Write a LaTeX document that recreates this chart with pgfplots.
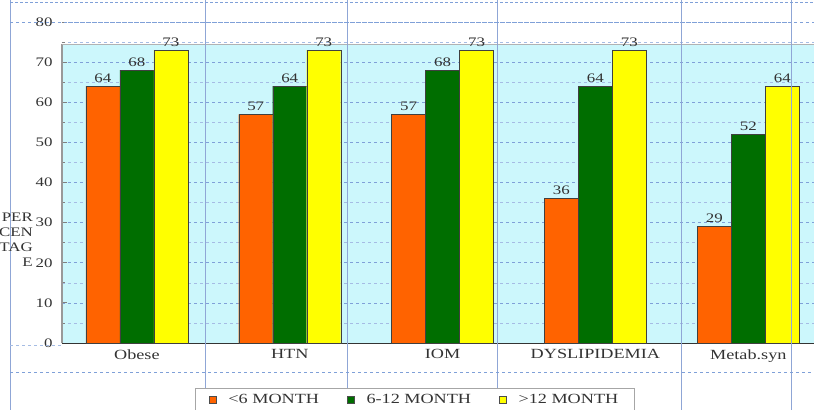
\documentclass[border=0pt]{standalone}
\usepackage{fontspec}
\setmainfont{Liberation Serif}[FakeStretch=1.3]
\usepackage{pgfplots}
\pgfplotsset{compat=1.18}
\definecolor{bgblue}{HTML}{CCF7FC}
\definecolor{gorange}{HTML}{FF6300}
\definecolor{ggreen}{HTML}{006E00}
\definecolor{gyellow}{HTML}{FFFF00}
\definecolor{gridblue}{HTML}{7FA0D8}
\definecolor{vline}{HTML}{8FA6D6}
\definecolor{txt}{HTML}{333333}
\pgfplotsset{sqleg/.style={legend image code/.code={\draw[##1,draw=black!70] (0pt,-3.5pt) rectangle (7pt,3.5pt);}}}
\begin{document}
\begin{tikzpicture}
\begin{axis}[name=ax, set layers, clip=false,
  width=752pt, height=321pt, scale only axis,
  ymin=0, ymax=80, xmin=-0.49, xmax=4.43,
  ybar=0pt, bar width=34pt,
  xtick={0,...,4},
  xticklabels={Obese,HTN,IOM,DYSLIPIDEMIA,Metab.syn},
  x tick label style={font=\fontsize{14}{16}\selectfont, text=txt, yshift=2pt},
  xtick style={draw=none},
  ytick={0,10,...,80},
  y tick label style={font=\fontsize{13}{15}\selectfont, text=txt, xshift=-6pt},
  ytick style={draw=gray, thick},
  major tick length=5pt,
  /pgf/number format/assume math mode=true,
  axis x line*=bottom, axis y line*=left,
  x axis line style={draw=black!80, thick, -},
  y axis line style={draw=none},
  minor y tick num=1,
  ymajorgrids, yminorgrids,
  major grid style={gridblue, dashed, line width=0.7pt},
  minor grid style={gridblue!70, dashed, line width=0.6pt},
  nodes near coords,
  every node near coord/.append style={font=\fontsize{13}{15}\selectfont, text=txt},
  legend columns=3,
  legend style={at={(axis description cs:0.469,-0.14)}, anchor=north, draw=gray!70, fill=white,
    font=\fontsize{14}{16}\selectfont, text=txt,
    /tikz/every odd column/.append style={column sep=10pt},
    /tikz/every even column/.append style={column sep=26pt},
    inner xsep=14pt, inner ysep=4pt},
]
\begin{pgfonlayer}{axis background}
\fill[bgblue] (axis cs:-0.49,0) rectangle (axis cs:4.43,74.5);
\end{pgfonlayer}
\addplot[fill=gorange, draw=black!75, sqleg] coordinates {(0,64) (1,57) (2,57) (3,36) (4,29)};
\addplot[fill=ggreen, draw=black!75, sqleg] coordinates {(0,68) (1,64) (2,68) (3,64) (4,52)};
\addplot[fill=gyellow, draw=black!75, sqleg] coordinates {(0,73) (1,73) (2,73) (3,73) (4,64)};
\legend{<6 MONTH, 6-12 MONTH, >12 MONTH}
\draw[gray!80, line width=2.5pt] (axis cs:-0.49,0) -- (axis cs:-0.49,74.5);
\draw[gray!60, line width=1pt] (axis cs:-0.49,74.5) -- (axis cs:4.43,74.5);
\pgfplotsinvokeforeach{-0.83,0.447,1.375,2.36,3.56,4.28}{
  \draw[vline, line width=0.6pt] (axis cs:#1,-17) -- (axis cs:#1,86);
}
\draw[gridblue, densely dashed, line width=0.7pt] (axis cs:-0.83,85) -- (axis cs:4.43,85);
\draw[gridblue, dashed, line width=0.7pt] (axis cs:-0.83,80) -- (axis cs:4.28,80);
\draw[gridblue, dashed, line width=0.7pt] (axis cs:-0.83,-7.3) -- (axis cs:4.43,-7.3);
\draw[gridblue!70, dashed, line width=0.6pt] (axis cs:-0.83,-0.6) -- (axis cs:-0.49,-0.6);
\node[anchor=south east, inner sep=0pt, align=right, text=txt,
  font=\fontsize{13}{15}\selectfont] at ([xshift=-29pt]axis cs:-0.49,18.9) {PER\\CEN\\TAG\\E};
\end{axis}
\pgfresetboundingbox
\path ([xshift=-62pt,yshift=-67pt]ax.south west) rectangle ([yshift=22pt]ax.north east);
\end{tikzpicture}
\end{document}
